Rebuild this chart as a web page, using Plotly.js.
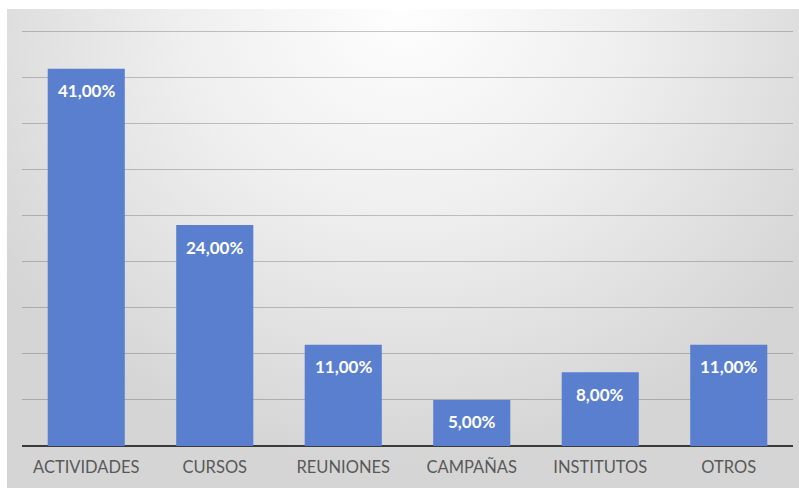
<!DOCTYPE html>
<html>
<head>
<meta charset="utf-8">
<script src="https://cdn.plot.ly/plotly-3.0.1.min.js"></script>
<style>
  html, body { margin: 0; padding: 0; background: #ffffff; }
  #wrap { position: relative; width: 799px; height: 488px; overflow: hidden; }
  #bg {
    position: absolute; left: 7px; top: 9px; width: 792px; height: 479px;
    background: radial-gradient(ellipse 62% 95% at 50% 0%, #fefefe 0%, #efefef 45%, #d5d5d5 100%);
  }
  #chart { position: absolute; left: 0; top: 0; width: 799px; height: 488px; }
</style>
</head>
<body>
<div id="wrap">
  <div id="bg"></div>
  <div id="chart"></div>
</div>
<script>
// Share of each activity type (percent)
const categories = ["ACTIVIDADES", "CURSOS", "REUNIONES", "CAMPAÑAS", "INSTITUTOS", "OTROS"];
const values = [41, 24, 11, 5, 8, 11];

const barColor = "#5A7FCF";
const labelFont = "Lato, 'Open Sans', sans-serif";

const trace = {
  type: "bar",
  x: categories,
  y: values,
  width: 0.6,
  marker: { color: barColor, line: { width: 0 } },
  hoverinfo: "skip"
};

// Value labels placed just inside the top of each bar
const labels = categories.map((c, i) => ({
  x: c,
  y: values[i],
  xref: "x",
  yref: "y",
  text: values[i].toFixed(2).replace(".", ",") + "%",
  showarrow: false,
  yanchor: "middle",
  yshift: -22,
  font: { family: labelFont, size: 17, color: "#ffffff", weight: "bold" }
}));

const layout = {
  width: 799,
  height: 488,
  margin: { l: 22, r: 6, t: 30, b: 42 },
  paper_bgcolor: "rgba(0,0,0,0)",
  plot_bgcolor: "rgba(0,0,0,0)",
  showlegend: false,
  bargap: 0.4,
  xaxis: {
    type: "category",
    showgrid: false,
    zeroline: false,
    showline: false,
    ticks: "",
    ticklabelstandoff: 9,
    tickfont: { family: labelFont, size: 16.5, color: "#595959" },
    fixedrange: true
  },
  yaxis: {
    range: [0, 45.2],
    dtick: 5,
    showticklabels: false,
    showgrid: true,
    gridcolor: "rgba(80,80,80,0.32)",
    gridwidth: 1,
    zeroline: true,
    zerolinecolor: "#3a3a3a",
    zerolinewidth: 2.5,
    showline: false,
    fixedrange: true
  },
  annotations: labels
};

Plotly.newPlot("chart", [trace], layout, { displayModeBar: false, staticPlot: true });
</script>
</body>
</html>
